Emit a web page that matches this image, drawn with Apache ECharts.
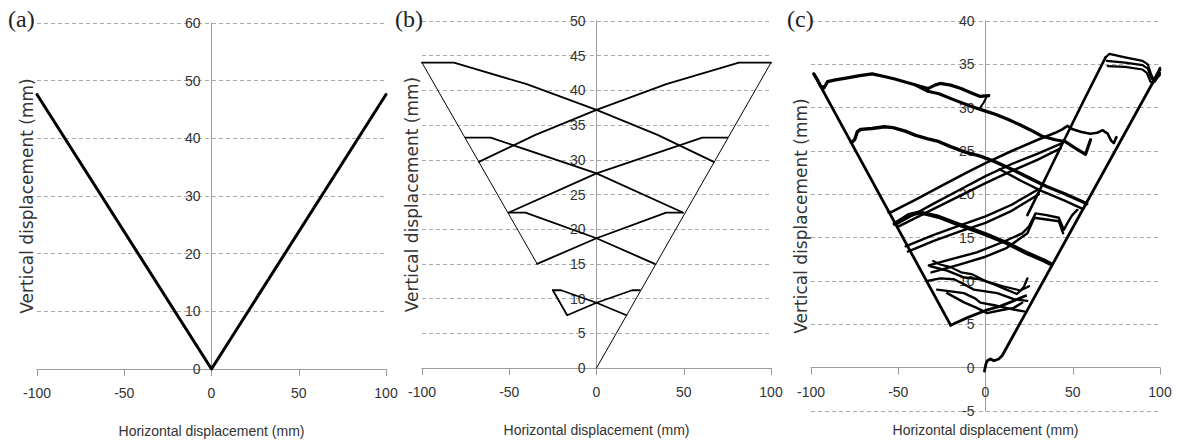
<!DOCTYPE html>
<html>
<head>
<meta charset="utf-8">
<script src="https://cdn.jsdelivr.net/npm/echarts@6/dist/echarts.min.js"></script>
<style>
html,body{margin:0;padding:0;background:#fff;}
#chart{width:1177px;height:446px;}
</style>
</head>
<body>
<div id="chart"></div>
<script>
// ---------------- data ----------------
const xTicks = [-100, -50, 0, 50, 100];
const xRange = [-100, 100, 50];
const yRangeA = [0, 60, 10];
const yRangeB = [0, 50, 5];
const yRangeC = [-5, 40, 5];
const panelLabels = ['(a)', '(b)', '(c)'];
const xTitle = 'Horizontal displacement (mm)';
const yTitle = 'Vertical displacement (mm)';

// Panel (a)
const aV = [[-100, 47.6], [0, 0], [100, 47.6]];

// Panel (b)
const bRightEdge = [[0, 0], [100, 44]];
const bLeftEdge = [[-100, 44], [-34, 15]];
const bCross1 = [[17.2, 7.6], [0, 9.4], [-20.3, 11.2], [-25, 11.2]];
const bCross2 = [[-25, 11.2], [-16.8, 7.6], [0, 9.4], [20.4, 11.2], [24.8, 11.2]];
const bCross3 = [[33.4, 15], [0, 18.7], [-40.7, 22.4], [-50.2, 22.4]];
const bCross4 = [[-34, 15], [0, 18.7], [39.9, 22.4], [49.5, 22.4]];
const bCross5 = [[-50.2, 22.4], [0, 28.05], [60.6, 33.2], [75, 33.2]];
const bCross6 = [[49.5, 22.4], [0, 28.05], [-60.7, 33.2], [-75.1, 33.2]];
const bCross7 = [[-67.4, 29.7], [-35, 33.6], [0, 37.2], [40, 40.9], [81.6, 44], [100, 44]];
const bCross8 = [[67.2, 29.7], [35, 33.6], [0, 37.2], [-40, 40.9], [-81.7, 44], [-100, 44]];

// Panel (c)
const cLeftEdge = [[-98.4, 33.9], [-20, 4.9]];
const cBottom = [[-20, 4.9], [-10, 5.8], [0, 6.6], [8.6, 7.1], [16, 7.7], [23, 8.3]];
const cRightEdge = [[-0.6, -0.4], [0.2, 0.4], [1, 0.8], [2.9, 1.0], [4.8, 0.8], [7.6, 1.0], [9.6, 1.4], [100, 34.4]];
const cInner = [[24, 17.6], [26, 18.4], [42, 25.0], [56, 30.7], [68.8, 35.8]];
const cTop1 = [[68.8, 35.8], [71, 36.2], [80, 35.8], [90, 35.4], [93, 35.0], [95, 33.8], [96.5, 33.2], [98, 33.8], [100, 34.6]];
const cTop2 = [[69.5, 35.4], [80, 35.2], [90, 34.9], [93, 34.5], [95, 33.4], [97, 33.0], [100, 34.0]];
const cTop3 = [[70, 34.8], [80, 34.7], [90, 34.4], [92.5, 34.0], [94.5, 33.0], [96, 32.9], [100, 33.8]];
const cCurveTop = [[-98.4, 33.9], [-96.5, 33.3], [-94.5, 32.5], [-92.5, 32.3], [-90.5, 33.0], [-86, 33.2], [-80, 33.4], [-72, 33.7], [-65, 33.9], [-58, 33.6], [-52, 33.3], [-45, 32.9], [-38, 32.5], [-33, 32.2], [-29, 32.6], [-26, 32.8], [-20, 32.6], [-14, 32.2], [-8, 31.7], [-3, 31.3], [1.9, 31.4]];
const cCurveTick = [[-3, 30.0], [-1, 30.6], [0.5, 31.2]];
const cCurveLow = [[-40, 32.6], [-33, 31.9], [-26.7, 31.6], [-18, 30.9], [-7.6, 30.1], [0, 29.6], [6, 29.2], [13.4, 28.6], [20, 28.0], [26, 27.4], [32.5, 26.7], [40, 26.3], [45.5, 26.1], [51, 25.4], [57.3, 24.6], [60.2, 26.3]];
const cCurve2 = [[-76.8, 26.0], [-75, 26.3], [-73.5, 27.2], [-71.6, 27.5], [-65, 27.6], [-58, 27.8], [-53, 27.7], [-46, 27.3], [-40, 26.8], [-33, 26.4], [-27, 26.1], [-20, 25.5], [-12, 24.9], [-3, 24.4], [5, 23.8], [16, 22.8], [25, 21.9], [35, 20.9], [45, 20.1], [55, 19.2], [58, 18.9]];
const cCurve2b = [[8, 22.9], [20, 21.6], [32, 20.4], [45, 19.3], [56, 18.3]];
const cRise1 = [[-55.5, 17.9], [-53.5, 18.0], [-40, 19.4], [-25, 21.0], [-10, 22.6], [0, 23.6], [15, 25.0], [30, 26.3], [40, 27.1], [44, 27.5], [47, 27.9], [50, 27.5], [55, 27.2], [60, 27.0], [64, 27.1], [67, 27.4], [70, 27.0], [72, 26.2], [73.5, 25.9], [75, 26.6]];
const cRise2a = [[-50.5, 16.6], [-48, 16.9], [-30, 18.9], [-15, 20.5], [0, 22.1], [15, 23.5], [30, 24.7], [44, 25.9]];
const cRise2b = [[-49.7, 16.3], [-30, 18.3], [-15, 19.8], [0, 21.3], [15, 22.7], [30, 24.0], [43, 25.3]];
const cRise3a = [[-45.8, 14.0], [-30, 15.3], [-15, 16.4], [0, 17.45], [15, 18.8], [29.6, 20.5]];
const cRise3b = [[-44.5, 13.4], [-30, 14.6], [-15, 15.7], [0, 16.7], [15, 18.1], [30.6, 20.0]];
const cFall1 = [[-52, 16.6], [-48, 17.1], [-44, 17.6], [-38, 17.9], [-33, 17.7], [-26.8, 17.4], [-15, 16.5], [0, 15.4], [12, 14.4], [24, 13.2], [33, 12.4], [37, 12.0]];
const cRise4a = [[-32.5, 11.8], [-20, 12.5], [-5, 13.3], [10, 14.5], [21, 15.5], [25, 16.3], [28.7, 17.8], [35, 17.6], [42, 17.3], [44.9, 15.9], [47, 16.7], [49.7, 17.6], [52.6, 18.2]];
const cRise4b = [[-31, 11.0], [-15, 11.9], [0, 12.8], [12, 13.8], [24, 15.5], [28, 17.3], [35, 17.1], [42, 16.9], [44.5, 15.5]];
const cLow1 = [[-33.4, 10.0], [-26, 10.3], [-18.1, 10.2], [-12, 9.6], [-6.7, 9.0], [0, 8.8], [6.7, 8.6], [16.2, 7.9], [23.9, 7.7]];
const cLow2 = [[-27.7, 9.0], [-20, 8.8], [-12.4, 8.6], [-6, 8.0], [-2.9, 7.5], [5, 7.2], [16.2, 6.7], [22, 6.5]];
const cLow3 = [[-22, 8.6], [-12, 7.5], [-5, 6.9], [1, 6.3], [8, 6.6], [16.2, 6.9], [21, 7.5]];
const cLow4 = [[-31.5, 11.7], [-22, 11.2], [-12, 10.4], [-3, 10.2], [5, 9.6], [12, 9.0], [18, 8.5], [22, 9.3], [24, 10.3]];
const cLow5 = [[-30, 12.3], [-26, 11.9], [-20, 11.6], [-14, 11.0], [-8, 10.8], [0, 10.0], [10, 9.4], [20, 8.9], [25, 9.4]];

// ---------------- chart ----------------
const SANS = "'Liberation Sans',Arial,sans-serif";
const AXIS_GREY = '#9c9c9c';
const TEXT = '#333333';
const grids = [
  {left: 37, top: 23, width: 349, height: 346},
  {left: 422, top: 21, width: 349, height: 347},
  {left: 811, top: 21, width: 349, height: 390}
];
const yRanges = [yRangeA, yRangeB, yRangeC];

const chart = echarts.init(document.getElementById('chart'), null, {renderer: 'svg', width: 1177, height: 446});

// place the x axis on y = 0 and the y axis on x = 0 (labels included)
function xOffset(i) {
  const r = yRanges[i];
  return -(0 - r[0]) / (r[1] - r[0]) * grids[i].height;
}
function yOffset(i) {
  return -(0 - xRange[0]) / (xRange[1] - xRange[0]) * grids[i].width;
}

function xAxisFor(i) {
  return {
    gridIndex: i, type: 'value', position: 'bottom', offset: xOffset(i),
    min: xRange[0], max: xRange[1], interval: xRange[2],
    axisLine: {show: true, onZero: false, lineStyle: {color: AXIS_GREY, width: 1}},
    axisTick: {show: true, inside: false, length: 7, lineStyle: {color: AXIS_GREY}},
    axisLabel: {show: true, color: TEXT, fontSize: 14, fontFamily: SANS, margin: 17,
      formatter: v => (xTicks.indexOf(v) >= 0 ? String(v) : '')},
    splitLine: {show: false},
    name: xTitle, nameLocation: 'middle', nameGap: 55,
    nameTextStyle: {color: TEXT, fontSize: 14, fontFamily: SANS}
  };
}
function yAxisFor(i) {
  const r = yRanges[i];
  return {
    gridIndex: i, type: 'value', position: 'left', offset: yOffset(i),
    min: r[0], max: r[1], interval: r[2],
    axisLine: {show: true, onZero: false, lineStyle: {color: AXIS_GREY, width: 1}},
    axisTick: {show: false},
    axisLabel: {show: true, color: TEXT, fontSize: 14, fontFamily: SANS, margin: 11},
    splitLine: {show: true, lineStyle: {color: '#a9a9a9', width: 1, type: [4, 3]}},
    name: yTitle, nameLocation: 'middle', nameGap: 176,
    nameTextStyle: {color: TEXT, fontSize: 17, fontFamily: "'DejaVu Sans',Verdana,sans-serif"}
  };
}
function line(i, data, w) {
  return {
    type: 'line', xAxisIndex: i, yAxisIndex: i, data: data,
    showSymbol: false, symbol: 'none', silent: true, clip: false,
    lineStyle: {color: '#000', width: w, join: 'round', cap: 'round'}, z: 5
  };
}

const series = [
  line(0, aV, 3),
  line(1, bRightEdge, 1), line(1, bLeftEdge, 1),
  line(1, bCross1, 1.8), line(1, bCross2, 1.8), line(1, bCross3, 1.8), line(1, bCross4, 1.8),
  line(1, bCross5, 1.8), line(1, bCross6, 1.8), line(1, bCross7, 1.8), line(1, bCross8, 1.8),
  line(2, cLeftEdge, 2.8), line(2, cBottom, 2.8), line(2, cRightEdge, 2.8), line(2, cInner, 2.6),
  line(2, cTop1, 2.2), line(2, cTop2, 2.2), line(2, cTop3, 2.2),
  line(2, cCurveTop, 3.2), line(2, cCurveTick, 2), line(2, cCurveLow, 3.2),
  line(2, cCurve2, 3.4), line(2, cCurve2b, 2.4),
  line(2, cRise1, 2.6), line(2, cRise2a, 2.4), line(2, cRise2b, 2.4),
  line(2, cRise3a, 2.4), line(2, cRise3b, 2.4),
  line(2, cFall1, 4.2),
  line(2, cRise4a, 2.4), line(2, cRise4b, 2.4),
  line(2, cLow1, 2.4), line(2, cLow2, 2.4), line(2, cLow3, 2.4), line(2, cLow4, 2.4), line(2, cLow5, 2.2)
];

const labelLefts = [8, 395, 787];
chart.setOption({
  animation: false,
  backgroundColor: '#fff',
  title: panelLabels.map((t, i) => ({
    text: t, left: labelLefts[i], top: 7, padding: 0,
    textStyle: {fontFamily: "'Liberation Serif','DejaVu Serif',serif", fontSize: 24, fontWeight: 'normal', color: '#222'}
  })),
  grid: grids.map(g => Object.assign({containLabel: false, outerBoundsMode: 'none'}, g)),
  xAxis: [0, 1, 2].map(xAxisFor),
  yAxis: [0, 1, 2].map(yAxisFor),
  series: series
});
</script>
</body>
</html>
